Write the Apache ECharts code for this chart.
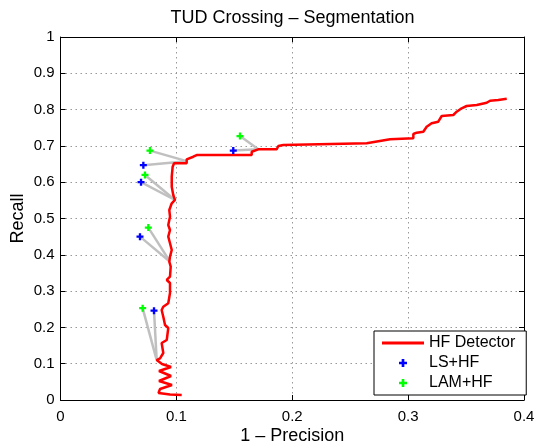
<!DOCTYPE html>
<html>
<head>
<meta charset="utf-8">
<script src="https://cdn.jsdelivr.net/npm/echarts@6/dist/echarts.min.js"></script>
<style>html,body{margin:0;padding:0;background:#fff}#c{width:536px;height:442px}</style>
</head>
<body>
<div id="c"></div>
<script>
// HF Detector curve (1 - precision, recall)
const hfX = [0.1046,0.0945,0.0846,0.0859,0.0962,0.0850,0.0954,0.0850,0.0954,0.0876,0.0830,0.0859,0.0887,0.0873,0.0917,0.0930,0.0902,0.0887,0.0873,0.0887,0.0930,0.0945,0.0945,0.0917,0.0945,0.0951,0.0939,0.0945,0.0960,0.0945,0.0930,0.0945,0.0930,0.0945,0.0939,0.0960,0.0988,0.0973,0.0960,0.0960,0.0968,0.0980,0.1089,0.1089,0.1146,0.1175,0.1650,0.1650,0.1707,0.1866,0.1880,0.1923,0.2642,0.2642,0.2844,0.3045,0.3045,0.3074,0.3131,0.3160,0.3203,0.3260,0.3290,0.3390,0.3419,0.3462,0.3505,0.3592,0.3678,0.3707,0.3778,0.3851];
const hfY = [0.0138,0.0152,0.0193,0.0303,0.0413,0.0523,0.0661,0.0799,0.0909,0.0992,0.1102,0.1149,0.1295,0.1570,0.1653,0.1983,0.2066,0.2295,0.2479,0.2570,0.2664,0.2948,0.3223,0.3306,0.3397,0.3672,0.3810,0.3948,0.4132,0.4317,0.4499,0.4683,0.4821,0.5050,0.5234,0.5419,0.5510,0.5647,0.5876,0.6152,0.6427,0.6521,0.6521,0.6631,0.6702,0.6749,0.6749,0.6840,0.6906,0.6906,0.6997,0.7025,0.7072,0.7099,0.7182,0.7209,0.7328,0.7364,0.7391,0.7529,0.7623,0.7667,0.7824,0.7851,0.7942,0.8036,0.8099,0.8127,0.8190,0.8245,0.8264,0.8300];
// LS+HF points
const lsX = [0.0715,0.0695,0.0686,0.0807,0.1491];
const lsY = [0.647,0.600,0.450,0.246,0.687];
// LAM+HF points
const lamX = [0.0772,0.0729,0.0758,0.0709,0.1549];
const lamY = [0.687,0.620,0.475,0.253,0.727];
// HF operating points each pair is linked to
const anchorX = [0.1089,0.0988,0.0945,0.0830,0.1707];
const anchorY = [0.658,0.551,0.381,0.110,0.691];
// tick labels
const xTicks = [0,0.1,0.2,0.3,0.4];
const yTicks = [0,0.1,0.2,0.3,0.4,0.5,0.6,0.7,0.8,0.9,1];

const FONT = "'Liberation Sans', Arial, Helvetica, sans-serif";
const PLUS = 'path://M2,0H4V2H6V4H4V6H2V4H0V2H2Z';
const LINEICON = 'path://M0,0H42V3H0Z';

const zip = (a, b) => a.map((v, i) => [v, b[i]]);

const series = [];
// gray connector segments
for (let i = 0; i < anchorX.length; i++) {
  [[lsX, lsY], [lamX, lamY]].forEach(([px, py]) => {
    series.push({
      type: 'line', silent: true, symbol: 'none', z: 1,
      data: [[px[i], py[i]], [anchorX[i], anchorY[i]]],
      lineStyle: { color: '#c0c0c0', width: 2.5 }
    });
  });
}
series.push({
  name: 'HF Detector', type: 'line', symbol: 'none', z: 3,
  data: zip(hfX, hfY),
  lineStyle: { color: '#ff0000', width: 2.5 },
  itemStyle: { color: '#ff0000' }
});
series.push({
  name: 'LS+HF', type: 'scatter', symbol: PLUS, symbolSize: 7, z: 4,
  data: zip(lsX, lsY), itemStyle: { color: '#0000ff', opacity: 1 }
});
series.push({
  name: 'LAM+HF', type: 'scatter', symbol: PLUS, symbolSize: 7, z: 4,
  data: zip(lamX, lamY), itemStyle: { color: '#00ff00', opacity: 1 }
});

const axisCommon = {
  type: 'value',
  axisLine: { show: true, onZero: false, lineStyle: { color: '#000', width: 1 } },
  axisTick: { show: true, inside: true, length: 5, lineStyle: { color: '#000' } },
};
const grid = { type: [1.5, 3.5], color: '#999', width: 1 };

const option = {
  animation: false,
  backgroundColor: '#fff',
  textStyle: { fontFamily: FONT },
  title: {
    text: 'TUD Crossing – Segmentation',
    left: 287.5, top: 4, textAlign: 'center',
    textStyle: { fontFamily: FONT, fontSize: 18, fontWeight: 'normal', color: '#000' }
  },
  grid: { left: 60.5, right: 12, top: 37, bottom: 42, containLabel: false, outerBoundsMode: 'none' },
  legend: {
    orient: 'vertical', left: 374, top: 331,
    padding: [2, 11, 2, 8], itemGap: 0, itemWidth: 42, itemHeight: 8,
    backgroundColor: '#fff', borderColor: '#000', borderWidth: 1, borderRadius: 0,
    textStyle: { fontFamily: FONT, fontSize: 16, color: '#000', lineHeight: 20 },
    data: [
      { name: 'HF Detector', icon: LINEICON },
      { name: 'LS+HF', icon: PLUS },
      { name: 'LAM+HF', icon: PLUS }
    ]
  },
  xAxis: [
    Object.assign({}, axisCommon, {
      position: 'bottom', min: xTicks[0], max: xTicks[xTicks.length - 1], interval: 0.1,
      axisLabel: { color: '#000', fontSize: 15, margin: 9, fontFamily: FONT },
      splitLine: { show: true, lineStyle: grid },
      name: '1 – Precision', nameLocation: 'middle', nameGap: 27, nameMoveOverlap: false,
      nameTextStyle: { fontFamily: FONT, fontSize: 18, color: '#000' }
    }),
    Object.assign({}, axisCommon, {
      position: 'top', min: xTicks[0], max: xTicks[xTicks.length - 1], interval: 0.1,
      axisLabel: { show: false }, splitLine: { show: false }
    })
  ],
  yAxis: [
    Object.assign({}, axisCommon, {
      position: 'left', min: yTicks[0], max: yTicks[yTicks.length - 1], interval: 0.1,
      axisLabel: { color: '#000', fontSize: 15, margin: 6, fontFamily: FONT },
      splitLine: { show: true, lineStyle: grid },
      name: 'Recall', nameLocation: 'middle', nameGap: 33, nameMoveOverlap: false,
      nameTextStyle: { fontFamily: FONT, fontSize: 18, color: '#000' }
    }),
    Object.assign({}, axisCommon, {
      position: 'right', min: yTicks[0], max: yTicks[yTicks.length - 1], interval: 0.1,
      axisLabel: { show: false }, splitLine: { show: false }
    })
  ],
  series: series
};

const chart = echarts.init(document.getElementById('c'), null, { renderer: 'canvas' });
chart.setOption(option);
</script>
</body>
</html>
